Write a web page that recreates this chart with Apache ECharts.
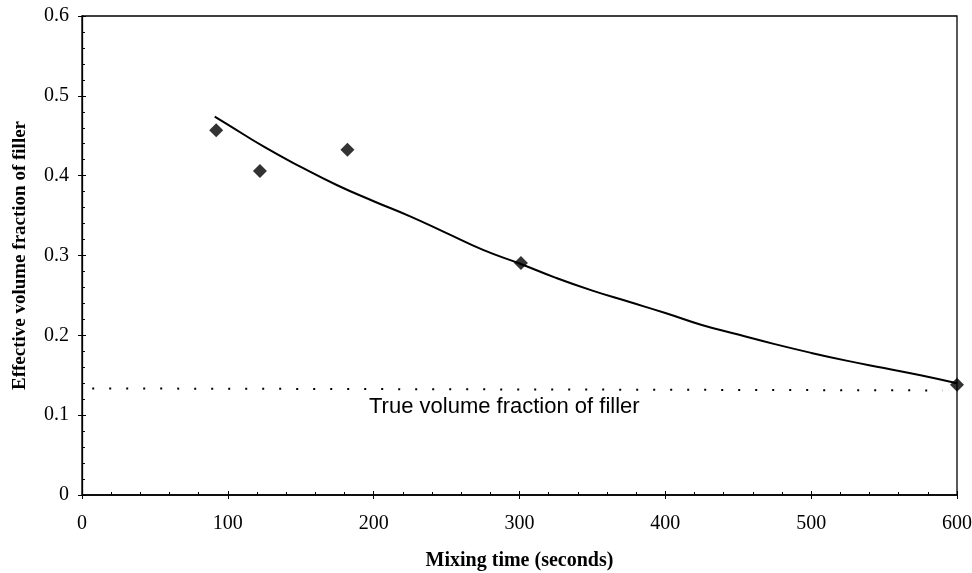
<!DOCTYPE html>
<html>
<head>
<meta charset="utf-8">
<script src="https://cdn.jsdelivr.net/npm/echarts@6/dist/echarts.min.js"></script>
<style>html,body{margin:0;padding:0;background:#fff}#c{width:972px;height:573px}</style>
</head>
<body>
<div id="c"></div>
<script>
// Measured points (mixing time s, effective volume fraction)
const pointTimes = [92, 122, 182, 301, 600];
const pointValues = [0.457, 0.406, 0.4325, 0.2905, 0.138];
// Fitted curve
const curveTimes = [91, 100, 125, 150, 175, 200, 225, 250, 275, 300, 325, 350, 375, 400, 425, 450, 475, 500, 525, 550, 575, 600];
const curveValues = [0.474, 0.464, 0.436, 0.411, 0.388, 0.368, 0.349, 0.328, 0.307, 0.290, 0.272, 0.256, 0.242, 0.228, 0.213, 0.201, 0.189, 0.178, 0.168, 0.159, 0.150, 0.140];
// True volume fraction dotted reference
const trueTimes = [7, 590];
const trueValues = [0.1335, 0.131];
const trueLabel = 'True volume fraction of filler';
const xTitle = 'Mixing time (seconds)';
const yTitle = 'Effective volume fraction of filler';

const chart = echarts.init(document.getElementById('c'));
const zip = (a, b) => a.map((v, i) => [v, b[i]]);
const serif = '"Liberation Serif", "DejaVu Serif", serif';

const xBase = {
  type: 'value', min: 0, max: 600, interval: 100,
  splitLine: { show: false }
};
const yBase = {
  type: 'value', min: 0, max: 0.6, interval: 0.1,
  splitLine: { show: false }
};

chart.setOption({
  animation: false,
  backgroundColor: '#fff',
  grid: { left: 82, right: 15, top: 16, bottom: 78, containLabel: false, outerBoundsMode: 'none',
    show: true, borderColor: '#000', borderWidth: 1.3 },
  xAxis: [
    Object.assign({}, xBase, {
      name: xTitle, nameLocation: 'middle', nameGap: 56,
      nameTextStyle: { fontFamily: serif, fontSize: 20, fontWeight: 'bold', color: '#000' },
      axisLine: { lineStyle: { color: '#000', width: 1.5 } },
      axisTick: { inside: true, length: 4, lineStyle: { color: '#000' } },
      minorTick: { show: true, splitNumber: 5, length: 3, lineStyle: { color: '#000' } },
      axisLabel: { fontFamily: serif, fontSize: 20, color: '#000', margin: 19 }
    }),
    Object.assign({}, xBase, {
      position: 'bottom',
      axisLine: { show: false },
      axisTick: { inside: false, length: 4, lineStyle: { color: '#000' } },
      axisLabel: { show: false }
    })
  ],
  yAxis: [
    Object.assign({}, yBase, {
      name: yTitle, nameLocation: 'middle', nameGap: 52,
      nameTextStyle: { fontFamily: serif, fontSize: 19, fontWeight: 'bold', color: '#000' },
      axisLine: { lineStyle: { color: '#000', width: 1.3 } },
      axisTick: { inside: true, length: 4, lineStyle: { color: '#000' } },
      minorTick: { show: true, splitNumber: 5, length: 3, lineStyle: { color: '#000' } },
      axisLabel: { fontFamily: serif, fontSize: 20, color: '#000', margin: 13,
        formatter: v => v === 0 ? '0' : v.toFixed(1) }
    }),
    Object.assign({}, yBase, {
      position: 'left',
      axisLine: { show: false },
      axisTick: { inside: false, length: 4, lineStyle: { color: '#000' } },
      axisLabel: { show: false }
    })
  ],
  series: [
    {
      type: 'line', data: zip(curveTimes, curveValues), smooth: true,
      showSymbol: false, lineStyle: { color: '#000', width: 2 }, z: 3
    },
    {
      type: 'line', data: zip(trueTimes, trueValues), showSymbol: false,
      lineStyle: { color: '#000', width: 2, type: [2, 15] }, z: 2
    },
    {
      type: 'scatter', data: zip(pointTimes, pointValues), symbol: 'diamond',
      symbolSize: 14, itemStyle: { color: '#000' }, z: 4
    }
  ],
  graphic: [{
    type: 'text', left: 369, top: 396,
    style: { text: trueLabel, fontFamily: '"Liberation Sans", Arial, sans-serif', fontSize: 22, fill: '#000' }
  }]
});
</script>
</body>
</html>
